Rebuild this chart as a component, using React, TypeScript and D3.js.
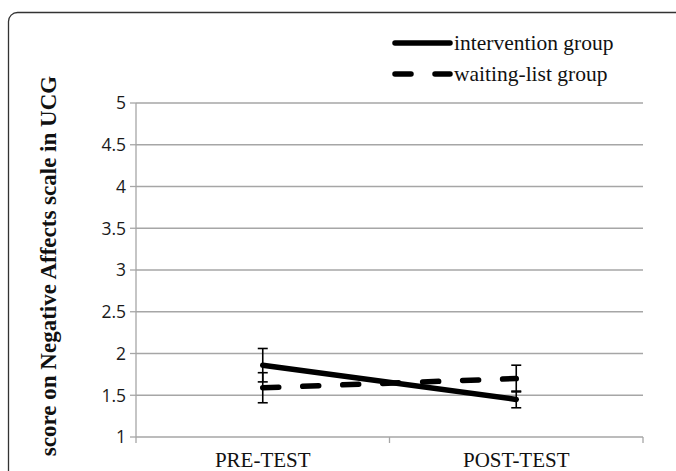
import React from "react";
import * as d3 from "d3";

const categories = ["PRE-TEST", "POST-TEST"];
const interventionMean = [1.86, 1.45];
const interventionErr = [0.2, 0.1];
const waitingMean = [1.59, 1.7];
const waitingErr = [0.18, 0.16];
const yTicks = [1, 1.5, 2, 2.5, 3, 3.5, 4, 4.5, 5];
const seriesNames = ["intervention group", "waiting-list group"];
const yTitle = "score on Negative Affects scale in UCG";

export default function App() {
  const W = 676, H = 471;
  const left = 136, right = 643, top = 103, bottom = 437;
  const x = d3.scaleBand<string>().domain(categories).range([left, right]).padding(0);
  const y = d3.scaleLinear().domain([1, 5]).range([bottom, top]);
  const cx = (c: string) => (x(c) as number) + x.bandwidth() / 2;
  const line = d3.line<number>().x((_, i) => cx(categories[i])).y((v) => y(v));
  const series = [
    { mean: interventionMean, err: interventionErr, dash: undefined as string | undefined },
    { mean: waitingMean, err: waitingErr, dash: "16 24" },
  ];
  const serif = "'Liberation Serif', 'Times New Roman', serif";
  const sans = "'Open Sans', 'Liberation Sans', sans-serif";
  return (
    <svg width={W} height={H} style={{ position: "absolute", left: 0, top: 0, background: "#fff", overflow: "hidden" }}>
      <rect x={8.5} y={12.5} width={1200} height={800} rx={9} fill="#fff" stroke="#333" strokeWidth={1.3} />
      {yTicks.map((t) => (
        <g key={t}>
          {t !== 1 && <line x1={left} x2={right} y1={y(t)} y2={y(t)} stroke="#a6a6a6" strokeWidth={1.3} />}
          <line x1={left - 6} x2={left} y1={y(t)} y2={y(t)} stroke="#a6a6a6" strokeWidth={1.3} />
          <text x={left - 10} y={y(t)} dy="0.36em" textAnchor="end" fontFamily={sans} fontSize={17.5} fill="#1a1a1a">
            {t}
          </text>
        </g>
      ))}
      <line x1={left} x2={left} y1={top} y2={bottom} stroke="#a6a6a6" strokeWidth={1.3} />
      <line x1={left} x2={right} y1={bottom} y2={bottom} stroke="#a6a6a6" strokeWidth={1.3} />
      {[left, (left + right) / 2, right].map((tx, i) => (
        <line key={i} x1={tx} x2={tx} y1={bottom} y2={bottom + 6} stroke="#a6a6a6" strokeWidth={1.3} />
      ))}
      {categories.map((c) => (
        <text key={c} x={cx(c)} y={467} textAnchor="middle" fontFamily={serif} fontSize={21} fill="#111">
          {c}
        </text>
      ))}
      <text
        transform={`translate(56, 266) rotate(-90)`}
        textAnchor="middle"
        fontFamily={serif}
        fontWeight="bold"
        fontSize={23}
        fill="#111"
      >
        {yTitle}
      </text>
      {series.map((s, si) => (
        <g key={si}>
          {s.mean.map((m, i) => {
            const px = cx(categories[i]);
            return (
              <g key={i} stroke="#000" strokeWidth={1.6}>
                <line x1={px} x2={px} y1={y(m + s.err[i])} y2={y(m - s.err[i])} />
                <line x1={px - 5} x2={px + 5} y1={y(m + s.err[i])} y2={y(m + s.err[i])} />
                <line x1={px - 5} x2={px + 5} y1={y(m - s.err[i])} y2={y(m - s.err[i])} />
              </g>
            );
          })}
        </g>
      ))}
      {series.map((s, si) => (
        <path
          key={si}
          d={line(s.mean) || ""}
          fill="none"
          stroke="#000"
          strokeWidth={5.5}
          strokeLinecap="round"
          strokeDasharray={s.dash}
        />
      ))}
      {seriesNames.map((n, i) => {
        const ly = 43 + i * 31;
        return (
          <g key={n}>
            <line
              x1={395}
              x2={450}
              y1={ly}
              y2={ly}
              stroke="#000"
              strokeWidth={5.5}
              strokeLinecap="round"
              strokeDasharray={series[i].dash ? "16 24" : undefined}
            />
            <text x={454} y={ly + 7} fontFamily={serif} fontSize={21.5} fill="#111">
              {n}
            </text>
          </g>
        );
      })}
    </svg>
  );
}
